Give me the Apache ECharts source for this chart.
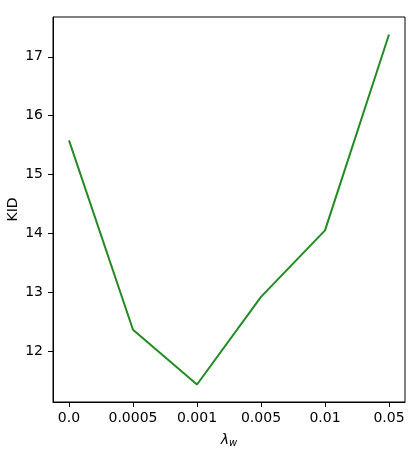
<!DOCTYPE html>
<html>
<head>
<meta charset="utf-8">
<script src="https://cdn.jsdelivr.net/npm/echarts@6/dist/echarts.min.js"></script>
<style>html,body{margin:0;padding:0;background:#fff}#c{width:410px;height:450px}</style>
</head>
<body>
<div id="c"></div>
<script>
var categories = ['0.0', '0.0005', '0.001', '0.005', '0.01', '0.05'];
var kidValues = [15.58, 12.36, 11.43, 12.92, 14.05, 17.38];
var yTicks = [12, 13, 14, 15, 16, 17];

var chart = echarts.init(document.getElementById('c'), null, {renderer: 'canvas'});
var font = 'DejaVu Sans';
var seriesData = kidValues.map(function (v, i) { return [i, v]; });
var lo = Math.min.apply(null, kidValues), hi = Math.max.apply(null, kidValues);
var pad = (hi - lo) * 0.05;
var n = categories.length - 1;

chart.setOption({
  animation: false,
  backgroundColor: '#fff',
  grid: {left: 53, top: 17, right: 5, bottom: 48, show: true, borderColor: '#000', borderWidth: 1, containLabel: false, outerBoundsMode: 'none'},
  xAxis: {
    type: 'value',
    min: -n * 0.05, max: n * 1.05,
    splitLine: {show: false},
    axisLine: {show: true, onZero: false, lineStyle: {color: '#000', width: 1}},
    axisTick: {show: true, length: 5, lineStyle: {color: '#000'}, customValues: categories.map(function (c, i) { return i; })},
    axisLabel: {
      color: '#000', fontFamily: font, fontSize: 14, margin: 9,
      customValues: categories.map(function (c, i) { return i; }),
      formatter: function (v) { return categories[Math.round(v)]; }
    },
    name: '{a|λ}{b|w}',
    nameLocation: 'middle',
    nameGap: 30,
    nameMoveOverlap: false,
    nameTextStyle: {
      rich: {
        a: {fontFamily: font, fontSize: 14, fontStyle: 'italic', color: '#000'},
        b: {fontFamily: font, fontSize: 10, fontStyle: 'italic', color: '#000', padding: [6, 0, 0, 0]}
      }
    }
  },
  yAxis: {
    type: 'value',
    min: lo - pad, max: hi + pad,
    splitLine: {show: false},
    axisLine: {show: true, onZero: false, lineStyle: {color: '#000', width: 1}},
    axisTick: {show: true, length: 5, lineStyle: {color: '#000'}, customValues: yTicks},
    axisLabel: {color: '#000', fontFamily: font, fontSize: 14, margin: 10, customValues: yTicks},
    name: 'KID',
    nameLocation: 'middle',
    nameGap: 33,
    nameMoveOverlap: false,
    nameTextStyle: {fontFamily: font, fontSize: 14, color: '#000'}
  },
  series: [{
    type: 'line',
    data: seriesData,
    symbol: 'none',
    lineStyle: {color: '#228B22', width: 2},
    itemStyle: {color: '#228B22'}
  }]
});
</script>
</body>
</html>
